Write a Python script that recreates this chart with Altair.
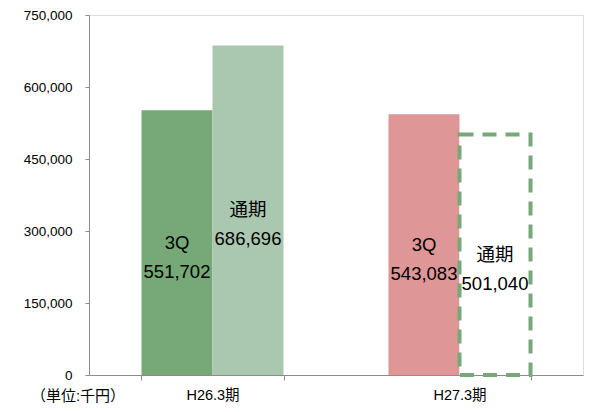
import altair as alt
import pandas as pd

categories = ["H26.3期", "H26.3期", "H27.3期", "H27.3期"]
series = ["3Q", "通期", "3Q", "通期"]
values = [551702, 686696, 543083, 501040]
fills = ["#77a878", "#aac8af", "#de9697", "#ffffff"]
dashed = [False, False, False, True]
y_ticks = [0, 150000, 300000, 450000, 600000, 750000]
unit_note = "（単位:千円）"

df = pd.DataFrame({
    "cat": categories,
    "series": series,
    "value": values,
    "fill": fills,
    "dashed": dashed,
    "label": [f"{s}\n{v:,}" for s, v in zip(series, values)],
})

FONT = "Liberation Sans, Noto Sans CJK JP, sans-serif"

x_enc = alt.X(
    "cat:N",
    sort=["H26.3期", "H27.3期"],
    scale=alt.Scale(paddingInner=0.425, paddingOuter=0.2125),
    axis=alt.Axis(
        title=None, labelAngle=0, tickBand="extent", tickSize=5,
        labelPadding=8, labelFontSize=14.5, labelColor="#000000",
        domainColor="#8c8c8c", tickColor="#8c8c8c", labelFont=FONT,
    ),
)
xo_enc = alt.XOffset("series:N", sort=["3Q", "通期"],
                     scale=alt.Scale(paddingInner=0, paddingOuter=0))
y_enc = alt.Y(
    "value:Q",
    scale=alt.Scale(domain=[0, 750000], nice=False),
    axis=alt.Axis(
        title=None, values=y_ticks, format=",d", grid=False, tickSize=4,
        labelPadding=13, labelFontSize=13.5, labelColor="#000000",
        domainColor="#8c8c8c", tickColor="#8c8c8c", labelFont=FONT,
    ),
)

base = alt.Chart(df)

bars = base.transform_filter("!datum.dashed").mark_bar().encode(
    x=x_enc, xOffset=xo_enc, y=y_enc,
    fill=alt.Fill("fill:N", scale=None),
)

dash_bar = base.transform_filter("datum.dashed").mark_bar(
    fill="#ffffff", stroke="#77a878", strokeWidth=4, strokeDash=[14, 9]
).encode(x=x_enc, xOffset=xo_enc, y=y_enc)

texts = base.transform_calculate(mid="datum.value / 2").mark_text(
    lineBreak="\n", lineHeight=29, fontSize=18.5, font=FONT,
    color="#000000", baseline="middle", align="center",
).encode(
    x=x_enc, xOffset=xo_enc,
    y=alt.Y("mid:Q", scale=alt.Scale(domain=[0, 750000], nice=False)),
    text="label:N",
)

note = alt.Chart(pd.DataFrame({"t": [unit_note]})).mark_text(
    fontSize=15, font=FONT, color="#000000", align="center", baseline="middle"
).encode(x=alt.value(-11), y=alt.value(381), text="t:N")

chart = alt.layer(bars, dash_bar, texts, note).properties(
    width=494, height=360,
    autosize=alt.AutoSizeParams(type="none"),
    padding={"left": 81, "top": 7, "right": 7, "bottom": 29},
).configure_view(stroke=None).configure(background="#ffffff")

chart.save("out.html", embed_options={"renderer": "svg", "actions": False})
